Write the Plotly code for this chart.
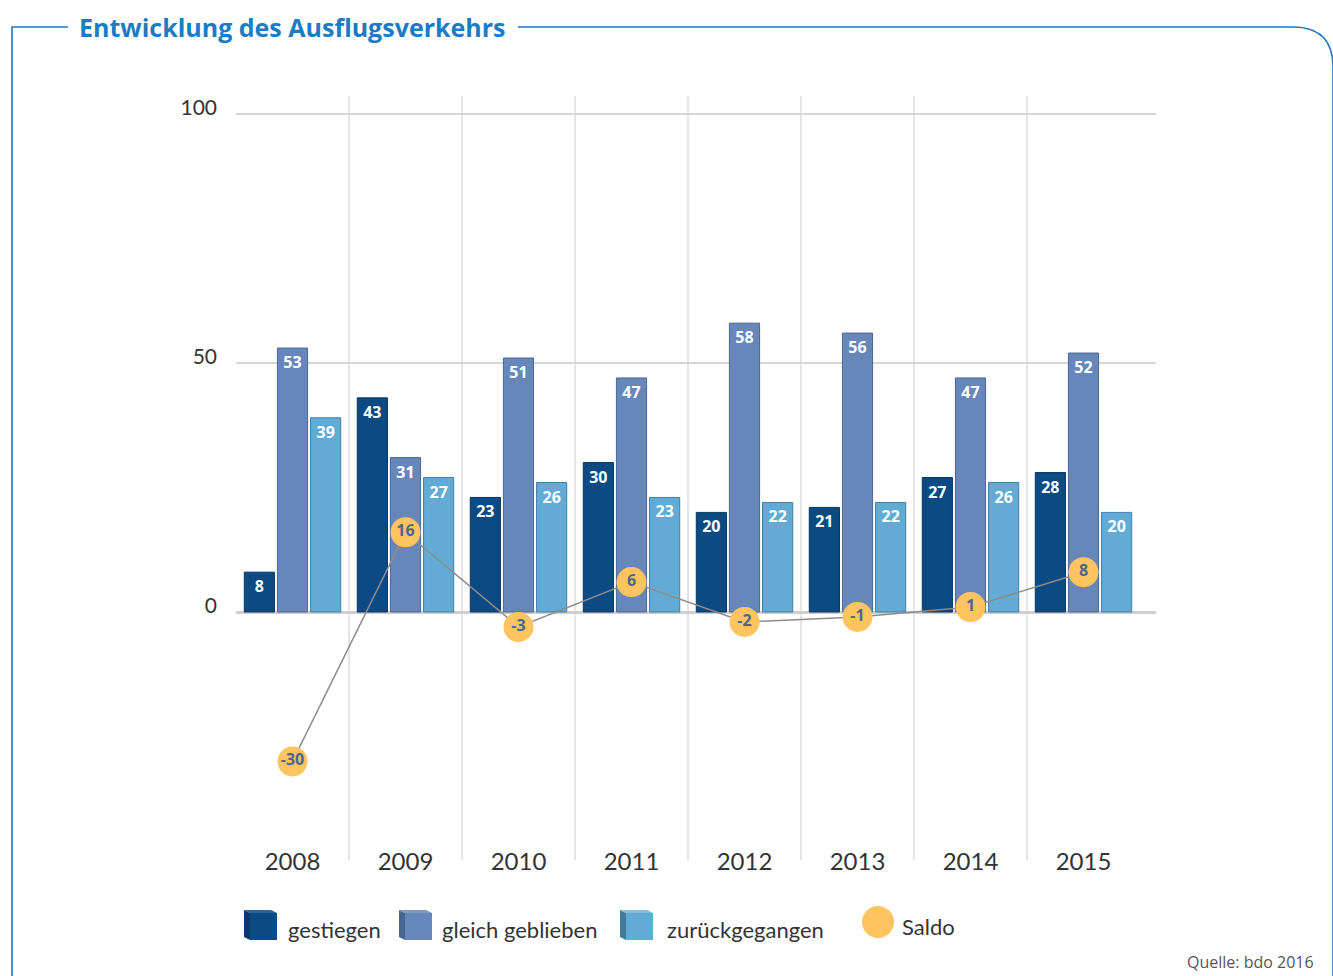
"""Entwicklung des Ausflugsverkehrs — grouped bars plus saldo line."""
import plotly.graph_objects as go

years = ["2008", "2009", "2010", "2011", "2012", "2013", "2014", "2015"]
gestiegen = [8, 43, 23, 30, 20, 21, 27, 28]
gleich = [53, 31, 51, 47, 58, 56, 47, 52]
zurueck = [39, 27, 26, 23, 22, 22, 26, 20]
saldo = [-30, 16, -3, 6, -2, -1, 1, 8]
y_ticks = [0, 50, 100]

NAVY = "#0B4A82"
MID = "#6787BA"
LIGHT = "#62ABD5"
SALDO = "#FDC45F"
FRAME = "#1B7BC3"
TXT = "#333333"
FONT = "Lato, Open Sans, sans-serif"

W, H = 1333, 976
L, R, T, B = 236, 1156, 96, 845   # plot area in pixels


def px(x):
    return (x - L) / (R - L)


def py(y):
    return (B - y) / (B - T)


xs = list(range(len(years)))

fig = go.Figure()
series = [("gestiegen", gestiegen, NAVY, "#07375F"),
          ("gleich geblieben", gleich, MID, "#4B6593"),
          ("zurückgegangen", zurueck, LIGHT, "#3F7FA6")]
for name, vals, col, edge in series:
    fig.add_trace(go.Bar(
        x=xs, y=vals, name=name,
        marker=dict(color=col, line=dict(color=edge, width=1)),
        text=[str(v) for v in vals], textposition="inside",
        insidetextanchor="end", textangle=0,
        textfont=dict(family="Open Sans, sans-serif", size=16, color="white",
                      weight="bold"),
        cliponaxis=False,
    ))

fig.add_trace(go.Scatter(
    x=xs, y=saldo, name="Saldo", mode="lines+markers+text",
    line=dict(color="#8C8C8C", width=1.5),
    marker=dict(size=30, color=SALDO),
    text=[str(v) for v in saldo], textposition="middle center",
    textfont=dict(family="Open Sans, sans-serif", size=16, color="#4A6790",
                  weight="bold"),
    cliponaxis=False,
))

shapes = []
# vertical separators between years
for i in range(len(years) - 1):
    shapes.append(dict(type="line", xref="x", yref="paper",
                       x0=i + 0.5, x1=i + 0.5, y0=py(860), y1=py(96),
                       line=dict(color="#DDDDDD", width=1.5), layer="below"))

# frame with rounded corner
frame_left = f"M {px(68)},{py(27)} L {px(12)},{py(27)} L {px(12)},{py(990)}"
frame_right = (f"M {px(518)},{py(27)} L {px(1293)},{py(27)} "
               f"Q {px(1333)},{py(27)} {px(1333)},{py(67)} L {px(1333)},{py(990)}")
for p in (frame_left, frame_right):
    shapes.append(dict(type="path", xref="paper", yref="paper", path=p,
                       line=dict(color=FRAME, width=1.6)))

# legend cubes
cubes = [(250, NAVY, "#083A69", "#2A6299"),
         (405, MID, "#4B6593", "#8099C4"),
         (626, LIGHT, "#427A9A", "#86BDDD")]
for x0, front, side, top in cubes:
    fx0, fx1, fy0, fy1 = x0, x0 + 27, 913, 940
    side_path = (f"M {px(fx0)},{py(fy1)} L {px(fx0 - 6)},{py(fy1 - 3)} "
                 f"L {px(fx0 - 6)},{py(fy0 - 3)} L {px(fx0)},{py(fy0)} Z")
    top_path = (f"M {px(fx0 - 6)},{py(fy0 - 3)} L {px(fx1 - 6)},{py(fy0 - 3)} "
                f"L {px(fx1)},{py(fy0)} L {px(fx0)},{py(fy0)} Z")
    shapes.append(dict(type="path", xref="paper", yref="paper", path=side_path,
                       fillcolor=side, line=dict(width=0)))
    shapes.append(dict(type="path", xref="paper", yref="paper", path=top_path,
                       fillcolor=top, line=dict(width=0)))
    shapes.append(dict(type="rect", xref="paper", yref="paper",
                       x0=px(fx0), x1=px(fx1), y0=py(fy1), y1=py(fy0),
                       fillcolor=front, line=dict(width=0)))
shapes.append(dict(type="circle", xref="paper", yref="paper",
                   x0=px(862), x1=px(894), y0=py(938), y1=py(906),
                   fillcolor=SALDO, line=dict(width=0)))

annotations = [
    dict(text="<b>Entwicklung des Ausflugsverkehrs</b>", xref="paper", yref="paper",
         x=px(77), y=py(27), xanchor="left", yanchor="middle", showarrow=False,
         font=dict(family="Open Sans, sans-serif", size=25, color=FRAME)),
    dict(text="Quelle: bdo 2016", xref="paper", yref="paper",
         x=px(1316), y=py(962), xanchor="right", yanchor="middle", showarrow=False,
         font=dict(family="Open Sans, sans-serif", size=16, color="#555555")),
]
for xpos, (name, *_rest) in zip([286, 440, 665], series):
    annotations.append(dict(text=name, xref="paper", yref="paper", x=px(xpos),
                            y=py(929), xanchor="left", yanchor="middle",
                            showarrow=False, font=dict(family=FONT, size=22, color=TXT)))
annotations.append(dict(text="Saldo", xref="paper", yref="paper", x=px(900),
                        y=py(926), xanchor="left", yanchor="middle",
                        showarrow=False, font=dict(family=FONT, size=22, color=TXT)))

unit = (612 - 363) / 50.0
fig.update_layout(
    width=W, height=H,
    margin=dict(l=L, r=W - R, t=T, b=H - B, autoexpand=False),
    barmode="group", bargap=0.12, bargroupgap=0.09,
    showlegend=False,
    uniformtext=dict(minsize=16, mode="show"),
    plot_bgcolor="#FFFFFF", paper_bgcolor="#FFFFFF",
    font=dict(family=FONT, color=TXT),
    shapes=shapes, annotations=annotations,
)
fig.update_xaxes(
    range=[-0.5, (R - L) / 113.0 - 0.5],
    tickvals=xs, ticktext=years, showgrid=False, zeroline=False,
    showline=False, ticks="", tickfont=dict(size=24, color=TXT),
)
fig.update_yaxes(
    range=[-(B - 612) / unit, (612 - T) / unit],
    tickvals=y_ticks, showgrid=True, gridcolor="#D6D6D6", gridwidth=2,
    zeroline=True, zerolinecolor="#CFCFCF", zerolinewidth=2.5,
    showline=False, ticks="", tickfont=dict(size=21, color=TXT),
    ticklabelshift=-6, ticklabelstandoff=18,
)

fig.write_html("out.html", config={"displayModeBar": False},
               post_script="document.body.style.margin='0';")
